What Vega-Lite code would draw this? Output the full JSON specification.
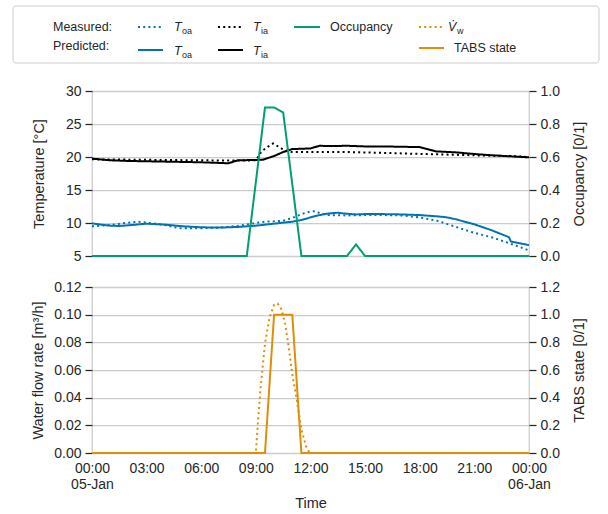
{
  "$schema": "https://vega.github.io/schema/vega-lite/v6.json",
  "background": "white",
  "padding": {"left": 12, "top": 5, "right": 10, "bottom": 4},
  "spacing": 15,
  "config": {
    "view": {"stroke": "#cccccc", "strokeWidth": 1.25},
    "font": "Liberation Sans",
    "axis": {
      "labelFont": "Liberation Sans",
      "labelFontSize": 14,
      "labelColor": "#262626",
      "titleFont": "Liberation Sans",
      "titleFontSize": 14.5,
      "titleFontWeight": "normal",
      "titleColor": "#262626",
      "tickColor": "#262626",
      "tickSize": 7,
      "tickWidth": 1.25,
      "labelPadding": 4,
      "domain": false,
      "gridColor": "#cccccc",
      "gridWidth": 1.25
    }
  },
  "datasets": {
    "temps": [
      {"s": "Toa_pred", "h": 0, "v": 9.95}, {"s": "Toa_pred", "h": 0.5, "v": 9.75}, {"s": "Toa_pred", "h": 1, "v": 9.6}, {"s": "Toa_pred", "h": 1.5, "v": 9.55}, {"s": "Toa_pred", "h": 2, "v": 9.65}, {"s": "Toa_pred", "h": 3, "v": 9.9}, {"s": "Toa_pred", "h": 4, "v": 9.75}, {"s": "Toa_pred", "h": 5, "v": 9.5}, {"s": "Toa_pred", "h": 6, "v": 9.35}, {"s": "Toa_pred", "h": 7, "v": 9.3}, {"s": "Toa_pred", "h": 8, "v": 9.4}, {"s": "Toa_pred", "h": 9, "v": 9.6}, {"s": "Toa_pred", "h": 10, "v": 9.9}, {"s": "Toa_pred", "h": 11, "v": 10.2}, {"s": "Toa_pred", "h": 11.5, "v": 10.45}, {"s": "Toa_pred", "h": 12, "v": 10.85}, {"s": "Toa_pred", "h": 12.5, "v": 11.2}, {"s": "Toa_pred", "h": 13, "v": 11.45}, {"s": "Toa_pred", "h": 13.5, "v": 11.55}, {"s": "Toa_pred", "h": 14, "v": 11.4}, {"s": "Toa_pred", "h": 14.5, "v": 11.3}, {"s": "Toa_pred", "h": 15, "v": 11.35}, {"s": "Toa_pred", "h": 16, "v": 11.35}, {"s": "Toa_pred", "h": 17, "v": 11.3}, {"s": "Toa_pred", "h": 18, "v": 11.2}, {"s": "Toa_pred", "h": 19, "v": 11.0}, {"s": "Toa_pred", "h": 19.5, "v": 10.85}, {"s": "Toa_pred", "h": 20, "v": 10.55}, {"s": "Toa_pred", "h": 21, "v": 9.8}, {"s": "Toa_pred", "h": 22, "v": 8.85}, {"s": "Toa_pred", "h": 22.9, "v": 7.85}, {"s": "Toa_pred", "h": 23, "v": 7.2}, {"s": "Toa_pred", "h": 24, "v": 6.65},
      {"s": "Toa_meas", "h": 0, "v": 9.5}, {"s": "Toa_meas", "h": 1, "v": 9.7}, {"s": "Toa_meas", "h": 2, "v": 10.05}, {"s": "Toa_meas", "h": 2.5, "v": 10.2}, {"s": "Toa_meas", "h": 3, "v": 10.05}, {"s": "Toa_meas", "h": 4, "v": 9.7}, {"s": "Toa_meas", "h": 4.8, "v": 9.2}, {"s": "Toa_meas", "h": 6, "v": 9.2}, {"s": "Toa_meas", "h": 7, "v": 9.3}, {"s": "Toa_meas", "h": 8, "v": 9.55}, {"s": "Toa_meas", "h": 9, "v": 10.0}, {"s": "Toa_meas", "h": 9.5, "v": 10.2}, {"s": "Toa_meas", "h": 10, "v": 10.25}, {"s": "Toa_meas", "h": 10.5, "v": 10.35}, {"s": "Toa_meas", "h": 11, "v": 10.75}, {"s": "Toa_meas", "h": 11.5, "v": 11.35}, {"s": "Toa_meas", "h": 12, "v": 11.75}, {"s": "Toa_meas", "h": 12.25, "v": 11.8}, {"s": "Toa_meas", "h": 12.5, "v": 11.5}, {"s": "Toa_meas", "h": 13, "v": 11.2}, {"s": "Toa_meas", "h": 14, "v": 11.15}, {"s": "Toa_meas", "h": 15, "v": 11.2}, {"s": "Toa_meas", "h": 16, "v": 11.2}, {"s": "Toa_meas", "h": 17, "v": 11.15}, {"s": "Toa_meas", "h": 18, "v": 10.85}, {"s": "Toa_meas", "h": 19, "v": 10.3}, {"s": "Toa_meas", "h": 20, "v": 9.4}, {"s": "Toa_meas", "h": 21, "v": 8.5}, {"s": "Toa_meas", "h": 22, "v": 7.8}, {"s": "Toa_meas", "h": 23, "v": 6.85}, {"s": "Toa_meas", "h": 24, "v": 5.85},
      {"s": "Tia_pred", "h": 0, "v": 19.75}, {"s": "Tia_pred", "h": 1, "v": 19.5}, {"s": "Tia_pred", "h": 2, "v": 19.4}, {"s": "Tia_pred", "h": 3, "v": 19.35}, {"s": "Tia_pred", "h": 4, "v": 19.3}, {"s": "Tia_pred", "h": 5, "v": 19.25}, {"s": "Tia_pred", "h": 6, "v": 19.2}, {"s": "Tia_pred", "h": 7, "v": 19.1}, {"s": "Tia_pred", "h": 7.5, "v": 19.05}, {"s": "Tia_pred", "h": 8, "v": 19.5}, {"s": "Tia_pred", "h": 9, "v": 19.55}, {"s": "Tia_pred", "h": 9.4, "v": 19.6}, {"s": "Tia_pred", "h": 10, "v": 20.15}, {"s": "Tia_pred", "h": 10.5, "v": 20.75}, {"s": "Tia_pred", "h": 11, "v": 21.2}, {"s": "Tia_pred", "h": 12, "v": 21.3}, {"s": "Tia_pred", "h": 12.5, "v": 21.7}, {"s": "Tia_pred", "h": 13, "v": 21.65}, {"s": "Tia_pred", "h": 14, "v": 21.7}, {"s": "Tia_pred", "h": 15, "v": 21.6}, {"s": "Tia_pred", "h": 16, "v": 21.6}, {"s": "Tia_pred", "h": 17, "v": 21.55}, {"s": "Tia_pred", "h": 18, "v": 21.5}, {"s": "Tia_pred", "h": 18.9, "v": 20.85}, {"s": "Tia_pred", "h": 20, "v": 20.7}, {"s": "Tia_pred", "h": 21, "v": 20.45}, {"s": "Tia_pred", "h": 22, "v": 20.25}, {"s": "Tia_pred", "h": 23, "v": 20.1}, {"s": "Tia_pred", "h": 24, "v": 19.95},
      {"s": "Tia_meas", "h": 0, "v": 19.65}, {"s": "Tia_meas", "h": 2, "v": 19.6}, {"s": "Tia_meas", "h": 4, "v": 19.55}, {"s": "Tia_meas", "h": 6, "v": 19.5}, {"s": "Tia_meas", "h": 8, "v": 19.45}, {"s": "Tia_meas", "h": 9, "v": 19.5}, {"s": "Tia_meas", "h": 9.3, "v": 20.8}, {"s": "Tia_meas", "h": 9.65, "v": 21.55}, {"s": "Tia_meas", "h": 9.95, "v": 22.05}, {"s": "Tia_meas", "h": 10.4, "v": 21.3}, {"s": "Tia_meas", "h": 10.75, "v": 20.85}, {"s": "Tia_meas", "h": 11, "v": 20.75}, {"s": "Tia_meas", "h": 14, "v": 20.75}, {"s": "Tia_meas", "h": 15.6, "v": 20.65}, {"s": "Tia_meas", "h": 18.3, "v": 20.45}, {"s": "Tia_meas", "h": 21.1, "v": 20.25}, {"s": "Tia_meas", "h": 22.9, "v": 20.15}, {"s": "Tia_meas", "h": 24, "v": 20.0}
    ],
    "occ": [
      {"s": "Occ", "h": 0, "v": 0}, {"s": "Occ", "h": 8.5, "v": 0}, {"s": "Occ", "h": 9.5, "v": 0.9}, {"s": "Occ", "h": 10, "v": 0.9}, {"s": "Occ", "h": 10.5, "v": 0.87}, {"s": "Occ", "h": 11.5, "v": 0}, {"s": "Occ", "h": 14, "v": 0}, {"s": "Occ", "h": 14.5, "v": 0.07}, {"s": "Occ", "h": 15, "v": 0}, {"s": "Occ", "h": 24, "v": 0}
    ],
    "flow": [
      {"s": "Vw", "h": 0, "v": 0}, {"s": "Vw", "h": 9.0, "v": 0}, {"s": "Vw", "h": 9.1, "v": 0.02}, {"s": "Vw", "h": 9.25, "v": 0.046}, {"s": "Vw", "h": 9.5, "v": 0.079}, {"s": "Vw", "h": 9.75, "v": 0.098}, {"s": "Vw", "h": 10.0, "v": 0.107}, {"s": "Vw", "h": 10.2, "v": 0.108}, {"s": "Vw", "h": 10.4, "v": 0.104}, {"s": "Vw", "h": 10.6, "v": 0.094}, {"s": "Vw", "h": 10.8, "v": 0.077}, {"s": "Vw", "h": 11.0, "v": 0.057}, {"s": "Vw", "h": 11.25, "v": 0.038}, {"s": "Vw", "h": 11.5, "v": 0.017}, {"s": "Vw", "h": 11.75, "v": 0.005}, {"s": "Vw", "h": 11.95, "v": 0}, {"s": "Vw", "h": 24, "v": 0}
    ],
    "tabs": [
      {"s": "TABS", "h": 0, "v": 0}, {"s": "TABS", "h": 9.5, "v": 0}, {"s": "TABS", "h": 10, "v": 1}, {"s": "TABS", "h": 11, "v": 1}, {"s": "TABS", "h": 11.5, "v": 0}, {"s": "TABS", "h": 24, "v": 0}
    ],
    "legBox": [{"x": -79, "x2": 507, "y": 0, "y2": 57}],
    "legLines": [
      {"s": "Toa_meas", "x": 46, "x2": 71, "y": 21}, {"s": "Tia_meas", "x": 126, "x2": 151, "y": 21}, {"s": "Occ", "x": 202, "x2": 228, "y": 21}, {"s": "Vw", "x": 327, "x2": 352, "y": 21},
      {"s": "Toa_pred", "x": 46, "x2": 71, "y": 44}, {"s": "Tia_pred", "x": 126, "x2": 151, "y": 44}, {"s": "TABS", "x": 327, "x2": 352, "y": 42}
    ],
    "legText": [
      {"t": "Measured:", "x": -39, "y": 21}, {"t": "Predicted:", "x": -39, "y": 40}, {"t": "Occupancy", "x": 238, "y": 21}, {"t": "TABS state", "x": 362, "y": 42}
    ],
    "legSym": [
      {"t": "T", "x": 82, "y": 21}, {"t": "T", "x": 161, "y": 21}, {"t": "V̇", "x": 356, "y": 21}, {"t": "T", "x": 82, "y": 45}, {"t": "T", "x": 161, "y": 45}
    ],
    "legSub": [
      {"t": "oa", "x": 90, "y": 25}, {"t": "ia", "x": 169, "y": 25}, {"t": "w", "x": 365, "y": 25}, {"t": "oa", "x": 90, "y": 49}, {"t": "ia", "x": 169, "y": 49}
    ]
  },
  "vconcat": [
    {
      "width": 437,
      "height": 62,
      "view": {"stroke": null},
      "layer": [
        {
          "data": {"name": "legBox"},
          "mark": {"type": "rect", "fill": "white", "stroke": "#cccccc", "strokeWidth": 1, "cornerRadius": 3, "clip": false},
          "encoding": {
            "x": {"field": "x", "type": "quantitative", "scale": {"domain": [0, 437], "nice": false, "zero": false}, "axis": null},
            "x2": {"field": "x2"},
            "y": {"field": "y", "type": "quantitative", "scale": {"domain": [0, 62], "reverse": true, "nice": false, "zero": false}, "axis": null},
            "y2": {"field": "y2"}
          }
        },
        {
          "data": {"name": "legLines"},
          "mark": {"type": "rule", "strokeWidth": 2, "clip": false},
          "encoding": {
            "x": {"field": "x", "type": "quantitative"},
            "x2": {"field": "x2"},
            "y": {"field": "y", "type": "quantitative"},
            "color": {"field": "s", "type": "nominal", "legend": null, "scale": {"domain": ["Toa_meas", "Toa_pred", "Tia_meas", "Tia_pred", "Occ", "Vw", "TABS"], "range": ["#0173b2", "#0173b2", "#000000", "#000000", "#029e73", "#de8f05", "#de8f05"]}},
            "strokeDash": {"field": "s", "type": "nominal", "legend": null, "scale": {"domain": ["Toa_meas", "Toa_pred", "Tia_meas", "Tia_pred", "Occ", "Vw", "TABS"], "range": [[2, 3.2], [1, 0], [2, 3.2], [1, 0], [1, 0], [2, 3.2], [1, 0]]}}
          }
        },
        {
          "data": {"name": "legText"},
          "mark": {"type": "text", "align": "left", "baseline": "middle", "fontSize": 12.5, "color": "#262626", "font": "Liberation Sans", "clip": false},
          "encoding": {
            "x": {"field": "x", "type": "quantitative"},
            "y": {"field": "y", "type": "quantitative"},
            "text": {"field": "t"}
          }
        },
        {
          "data": {"name": "legSym"},
          "mark": {"type": "text", "align": "left", "baseline": "middle", "fontSize": 12.5, "fontStyle": "italic", "color": "#262626", "font": "Liberation Sans", "clip": false},
          "encoding": {
            "x": {"field": "x", "type": "quantitative"},
            "y": {"field": "y", "type": "quantitative"},
            "text": {"field": "t"}
          }
        },
        {
          "data": {"name": "legSub"},
          "mark": {"type": "text", "align": "left", "baseline": "middle", "fontSize": 9, "color": "#262626", "font": "Liberation Sans", "clip": false},
          "encoding": {
            "x": {"field": "x", "type": "quantitative"},
            "y": {"field": "y", "type": "quantitative"},
            "text": {"field": "t"}
          }
        }
      ]
    },
    {
      "width": 437,
      "height": 165,
      "layer": [
        {
          "data": {"name": "temps"},
          "mark": {"type": "line", "strokeWidth": 2, "strokeCap": "butt"},
          "encoding": {
            "x": {"field": "h", "type": "quantitative", "scale": {"domain": [0, 24], "nice": false, "zero": false}, "axis": null},
            "y": {"field": "v", "type": "quantitative", "scale": {"domain": [5, 30], "nice": false, "zero": false}, "axis": {"title": "Temperature [°C]", "values": [5, 10, 15, 20, 25, 30], "grid": true, "titlePadding": 19}},
            "color": {"field": "s", "type": "nominal", "legend": null, "scale": {"domain": ["Toa_meas", "Toa_pred", "Tia_meas", "Tia_pred", "Occ", "Vw", "TABS"], "range": ["#0173b2", "#0173b2", "#000000", "#000000", "#029e73", "#de8f05", "#de8f05"]}},
            "strokeDash": {"field": "s", "type": "nominal", "legend": null, "scale": {"domain": ["Toa_meas", "Toa_pred", "Tia_meas", "Tia_pred", "Occ", "Vw", "TABS"], "range": [[2, 3.2], [1, 0], [2, 3.2], [1, 0], [1, 0], [2, 3.2], [1, 0]]}}
          }
        },
        {
          "data": {"name": "occ"},
          "mark": {"type": "line", "strokeWidth": 2},
          "encoding": {
            "x": {"field": "h", "type": "quantitative", "scale": {"domain": [0, 24], "nice": false, "zero": false}, "axis": null},
            "y": {"field": "v", "type": "quantitative", "scale": {"domain": [0, 1], "nice": false, "zero": false}, "axis": {"orient": "right", "title": "Occupancy [0/1]", "titleAngle": 270, "titleBaseline": "top", "values": [0, 0.2, 0.4, 0.6, 0.8, 1.0], "format": ".1f", "grid": false, "titlePadding": 13}},
            "color": {"field": "s", "type": "nominal", "legend": null},
            "strokeDash": {"field": "s", "type": "nominal", "legend": null}
          }
        }
      ],
      "resolve": {"scale": {"y": "independent"}}
    },
    {
      "width": 437,
      "height": 166,
      "layer": [
        {
          "data": {"name": "flow"},
          "mark": {"type": "line", "strokeWidth": 2, "strokeCap": "butt"},
          "encoding": {
            "x": {"field": "h", "type": "quantitative", "scale": {"domain": [0, 24], "nice": false, "zero": false}, "axis": {"title": "Time", "values": [0, 3, 6, 9, 12, 15, 18, 21, 24], "grid": false, "ticks": false, "labelPadding": 8, "titlePadding": 5, "labelFlush": false, "labelExpr": "datum.value == 0 ? ['00:00', '05-Jan'] : datum.value == 24 ? ['00:00', '06-Jan'] : format(datum.value, '02d') + ':00'"}},
            "y": {"field": "v", "type": "quantitative", "scale": {"domain": [0, 0.12], "nice": false, "zero": false}, "axis": {"title": "Water flow rate [m³/h]", "values": [0, 0.02, 0.04, 0.06, 0.08, 0.1, 0.12], "format": ".2f", "grid": true, "titlePadding": 8}},
            "color": {"field": "s", "type": "nominal", "legend": null, "scale": {"domain": ["Toa_meas", "Toa_pred", "Tia_meas", "Tia_pred", "Occ", "Vw", "TABS"], "range": ["#0173b2", "#0173b2", "#000000", "#000000", "#029e73", "#de8f05", "#de8f05"]}},
            "strokeDash": {"field": "s", "type": "nominal", "legend": null, "scale": {"domain": ["Toa_meas", "Toa_pred", "Tia_meas", "Tia_pred", "Occ", "Vw", "TABS"], "range": [[2, 3.2], [1, 0], [2, 3.2], [1, 0], [1, 0], [2, 3.2], [1, 0]]}}
          }
        },
        {
          "data": {"name": "tabs"},
          "mark": {"type": "line", "strokeWidth": 2},
          "encoding": {
            "x": {"field": "h", "type": "quantitative", "scale": {"domain": [0, 24], "nice": false, "zero": false}},
            "y": {"field": "v", "type": "quantitative", "scale": {"domain": [0, 1.2], "nice": false, "zero": false}, "axis": {"orient": "right", "title": "TABS state [0/1]", "titleAngle": 270, "titleBaseline": "top", "values": [0, 0.2, 0.4, 0.6, 0.8, 1.0, 1.2], "format": ".1f", "grid": false, "titlePadding": 13}},
            "color": {"field": "s", "type": "nominal", "legend": null},
            "strokeDash": {"field": "s", "type": "nominal", "legend": null}
          }
        }
      ],
      "resolve": {"scale": {"y": "independent"}}
    }
  ]
}
